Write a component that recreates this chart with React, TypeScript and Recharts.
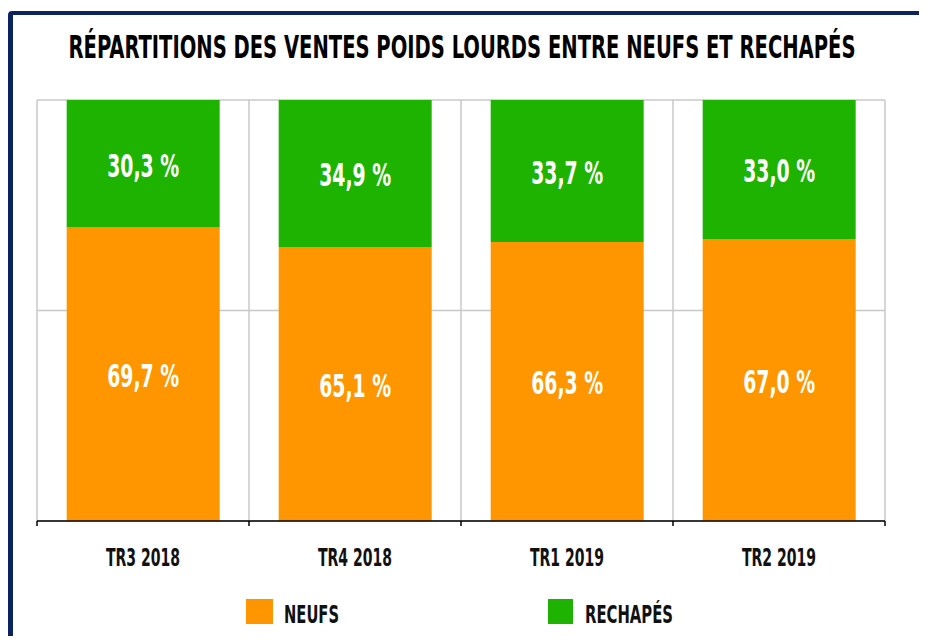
import React, { useLayoutEffect, useRef, useState } from "react";
import { BarChart, Bar, XAxis, YAxis, CartesianGrid, LabelList } from "recharts";

const quarters = ["TR3 2018", "TR4 2018", "TR1 2019", "TR2 2019"];
const neufs = [69.7, 65.1, 66.3, 67.0];
const rechapes = [30.3, 34.9, 33.7, 33.0];
const yTicks = [0, 50, 100];

const data = quarters.map((q, i) => ({ quarter: q, neufs: neufs[i], rechapes: rechapes[i] }));

const W = 927;
const H = 644;
const XAXIS_H = 30;
const MARGIN = { top: 100, right: 42, bottom: 123 - XAXIS_H, left: 37 };
const PLOT_W = W - MARGIN.left - MARGIN.right;
const BAND = PLOT_W / quarters.length;
const AXIS_Y = H - MARGIN.bottom - XAXIS_H;

const ORANGE = "#FF9600";
const GREEN = "#1EB300";
const NAVY = "#0B2360";
const FONT = "'Liberation Sans Narrow', 'DejaVu Sans Condensed', 'Roboto', sans-serif";
const TITLE = "RÉPARTITIONS DES VENTES POIDS LOURDS ENTRE NEUFS ET RECHAPÉS";

const fmt = (v: number) => `${v.toFixed(1).replace(".", ",")} %`;

const ValueLabel = (props: any) => {
  const { x, y, width, height, value } = props;
  return (
    <text
      x={x + width / 2}
      y={y + height / 2 + 13}
      textAnchor="middle"
      fill="#fff"
      fontFamily={FONT}
      fontWeight={700}
      fontSize={32}
      textLength={72}
      lengthAdjust="spacingAndGlyphs"
    >
      {fmt(value)}
    </text>
  );
};

const QuarterTick = (props: any) => {
  const { x, payload, index } = props;
  const half = BAND / 2;
  return (
    <g>
      <line x1={x - half} x2={x - half} y1={AXIS_Y} y2={AXIS_Y + 5} stroke="#000" strokeWidth={1.5} />
      {index === quarters.length - 1 && (
        <line x1={x + half} x2={x + half} y1={AXIS_Y} y2={AXIS_Y + 5} stroke="#000" strokeWidth={1.5} />
      )}
      <text
        x={x}
        y={566}
        textAnchor="middle"
        fill="#111"
        fontFamily={FONT}
        fontWeight={700}
        fontSize={24}
        textLength={74}
        lengthAdjust="spacingAndGlyphs"
      >
        {payload.value}
      </text>
    </g>
  );
};

const LegendBlock = () => (
  <svg style={{ position: "absolute", left: 0, top: 597 }} width={W} height={40}>
    <rect x={246} y={2} width={27} height={25} fill={ORANGE} />
    <text x={284} y={26} fontFamily={FONT} fontWeight={700} fontSize={25} fill="#111" textLength={55} lengthAdjust="spacingAndGlyphs">
      NEUFS
    </text>
    <rect x={548} y={2} width={25} height={25} fill={GREEN} />
    <text x={585} y={26} fontFamily={FONT} fontWeight={700} fontSize={25} fill="#111" textLength={88} lengthAdjust="spacingAndGlyphs">
      RECHAPÉS
    </text>
  </svg>
);

// title fitted to the reference box: 787px wide, centred at x=461
const Title = () => {
  const ref = useRef<HTMLSpanElement>(null);
  const [sx, setSx] = useState(0.9);
  useLayoutEffect(() => {
    if (ref.current) setSx(787 / ref.current.offsetWidth);
  }, []);
  return (
    <span
      ref={ref}
      style={{
        position: "absolute",
        left: 461.5,
        top: 30,
        lineHeight: "34px",
        whiteSpace: "nowrap",
        fontFamily: FONT,
        fontWeight: 700,
        fontSize: 26,
        color: "#000",
        transform: `translateX(-50%) scale(${sx}, 1.2)`,
        transformOrigin: "center",
      }}
    >
      {TITLE}
    </span>
  );
};

export default function App() {
  return (
    <div style={{ position: "relative", width: W, height: H, margin: -8, overflow: "hidden", background: "#fff" }}>
      <div
        style={{
          position: "absolute",
          left: 8,
          top: 11,
          width: 927 - 8 - 2,
          height: 720,
          boxSizing: "border-box",
          border: `5px solid ${NAVY}`,
          borderTopWidth: 4,
          borderRadius: 4,
        }}
      />
      <Title />
      <div style={{ position: "absolute", left: 0, top: 0 }}>
        <BarChart width={W} height={H} data={data} margin={MARGIN} barCategoryGap="14%">
          <CartesianGrid
            stroke="#c8c8c8"
            strokeWidth={1.5}
            verticalCoordinatesGenerator={({ offset }: any) =>
              quarters.concat([""]).map((_, i) => offset.left + (i * offset.width) / quarters.length)
            }
          />
          <XAxis
            dataKey="quarter"
            height={XAXIS_H}
            axisLine={{ stroke: "#000", strokeWidth: 1.5 }}
            tickLine={false}
            tick={<QuarterTick />}
            interval={0}
          />
          <YAxis hide domain={[0, 100]} ticks={yTicks} />
          <Bar dataKey="neufs" stackId="a" fill={ORANGE} isAnimationActive={false}>
            <LabelList dataKey="neufs" content={<ValueLabel />} />
          </Bar>
          <Bar dataKey="rechapes" stackId="a" fill={GREEN} isAnimationActive={false}>
            <LabelList dataKey="rechapes" content={<ValueLabel />} />
          </Bar>
        </BarChart>
      </div>
      <LegendBlock />
    </div>
  );
}
